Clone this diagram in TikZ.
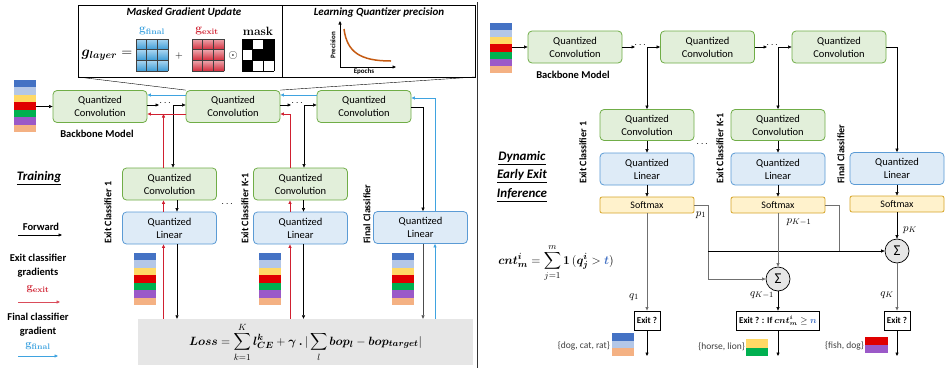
\documentclass[tikz,border=0pt]{standalone}
\usepackage[no-math]{fontspec}
\usepackage{amsmath,bm}
\setmainfont{Carlito}
\usetikzlibrary{arrows.meta,calc}

\definecolor{convfill}{HTML}{E2EFDA}
\definecolor{convline}{HTML}{70AD47}
\definecolor{linfill}{HTML}{DEEBF7}
\definecolor{linline}{HTML}{5B9BD5}
\definecolor{smxfill}{HTML}{FFF2CC}
\definecolor{smxline}{HTML}{D6A52A}
\definecolor{lossgray}{HTML}{E6E6E6}
\definecolor{linkgray}{HTML}{707070}
\definecolor{sblue}{HTML}{4472C4}
\definecolor{sltblue}{HTML}{B4C7E7}
\definecolor{syellow}{HTML}{FFD966}
\definecolor{sred}{HTML}{E00000}
\definecolor{sgreen}{HTML}{00B050}
\definecolor{spurple}{HTML}{9B59C8}
\definecolor{speach}{HTML}{F4B183}
\definecolor{curvecol}{HTML}{C55A11}
\definecolor{tblue}{HTML}{4472C4}
\definecolor{gfinal}{HTML}{3FA3E0}
\definecolor{gexit}{HTML}{D02030}

% horizontal stripes: x, y top, width, stripe height, colours
\newcommand{\stripestack}[5]{%
  \foreach \c [count=\i from 0] in {#5} {
    \fill[\c] (#1,{#2+\i*#4}) rectangle ++(#3,#4);
  }%
}
% 3x3 shaded gradient grid: x, y top, top colour, bottom colour, line colour
\newcommand{\gradgrid}[5]{%
  \foreach \i in {0,1,2}{\foreach \j in {0,1,2}{
    \shade[top color=#3, bottom color=#4] ({#1+\i*10.67},{#2+\j*10.67}) rectangle ++(10.67,10.67);
  }}
  \foreach \k in {0,1,2,3}{
    \draw[#5, line width=0.6pt] ({#1+\k*10.67},#2) -- ++(0,32);
    \draw[#5, line width=0.6pt] (#1,{#2+\k*10.67}) -- ++(32,0);
  }%
}

\tikzset{
  box/.style={rounded corners=4pt, line width=0.8pt, align=center, inner sep=0pt,
    font=\fontsize{10.5}{13}\selectfont},
  convbox/.style={box, draw=convline, fill=convfill, minimum width=94pt, minimum height=32pt},
  linbox/.style={box, draw=linline, fill=linfill, minimum width=94pt, minimum height=32pt},
  smxbox/.style={box, draw=smxline, fill=smxfill, minimum width=94pt, minimum height=16pt,
    rounded corners=2pt, font=\fontsize{10}{12}\selectfont},
  arr/.style={-{Triangle[length=3.5pt,width=3pt]}},
  fwd/.style={arr, line width=0.6pt, black},
  redg/.style={arr, line width=0.7pt, gexit},
  blueg/.style={arr, line width=0.7pt, gfinal},
  grayl/.style={line width=0.8pt, linkgray},
  sidelabel/.style={rotate=90, anchor=west, font=\bfseries\fontsize{10}{12}\selectfont, inner sep=0pt},
  exitbox/.style={draw, line width=0.8pt, fill=white, font=\bfseries\fontsize{9}{11}\selectfont,
    minimum height=19pt, inner sep=3pt},
  sumnode/.style={circle, draw, fill=lossgray, minimum size=24pt, inner sep=0pt, line width=0.7pt,
    font=\fontsize{15}{15}\selectfont},
  dotsnode/.style={inner sep=0pt, font=\fontsize{10}{12}\selectfont},
  legendtext/.style={inner sep=0pt, font=\bfseries\fontsize{10.5}{12}\selectfont},
  setlabel/.style={anchor=east, inner sep=1pt, text=black!75, font=\fontsize{9.5}{11}\selectfont},
  mathlabel/.style={inner sep=0pt, font=\fontsize{11}{12}\selectfont},
  plain/.style={inner sep=0pt},
}

\begin{document}
\begin{tikzpicture}[x=1pt, y=-1pt]
\fill[white] (0,0) rectangle (951,370);
\useasboundingbox (0,0) rectangle (951,370);

% ================= training panel =================
% gradient / precision inset
\draw[line width=0.8pt] (78,5) rectangle (475,77);
\draw[line width=0.8pt] (282,5) -- (282,77);
\node[plain, font=\bfseries\itshape\fontsize{11}{13}\selectfont] (tmask) at (184,13) {Masked Gradient Update};
\node[plain, font=\bfseries\itshape\fontsize{11}{13}\selectfont] (tprec) at (379,13) {Learning Quantizer precision};
\node[plain, font=\fontsize{14}{14}\selectfont] (glayer) at (107,55) {$\bm{g_{layer}} =$};
\gradgrid{136}{39}{gfinal!45}{gfinal!95!black}{black!75}
\gradgrid{192}{39}{gexit!40}{gexit!95}{black!75}
\node[plain, text=gfinal, font=\fontsize{12}{12}\selectfont] (lgf) at (152,31) {$\mathbf{g}_{\mathbf{final}}$};
\node[plain, text=gexit, font=\fontsize{12}{12}\selectfont] (lge) at (207,31) {$\mathbf{g}_{\mathbf{exit}}$};
\node[plain, font=\fontsize{12}{12}\selectfont] (lmask) at (258,31) {$\mathbf{mask}$};
\node[plain] (plus) at (179,56) {$+$};
\node[plain, font=\fontsize{13}{13}\selectfont] (odot) at (233,55) {$\odot$};
% mask pattern
\foreach \i/\j/\col in {0/0/black,1/0/white,2/0/black,0/1/white,1/1/black,2/1/black,0/2/black,1/2/white,2/2/white}
  \fill[\col] ({242+\i*10.67},{39+\j*10.67}) rectangle ++(10.67,10.67);
\foreach \k in {0,1,2,3}{
  \draw[black, line width=0.6pt] ({242+\k*10.67},39) -- ++(0,32);
  \draw[black, line width=0.6pt] (242,{39+\k*10.67}) -- ++(32,0);
}
% precision curve
\draw[arr, line width=0.7pt] (340,67) -- (340,21);
\draw[arr, line width=0.7pt] (340,67) -- (396,67);
\draw[curvecol, line width=1.5pt] (344,29) .. controls (347,52) and (360,61) .. (391,61);
\node[plain, rotate=90, font=\bfseries\fontsize{7}{8}\selectfont] (lprec) at (333,45) {Precision};
\node[plain, font=\bfseries\fontsize{7}{8}\selectfont] (lepoch) at (364,72) {Epochs};

% backbone
\stripestack{14}{80}{22}{7.43}{sblue,sltblue,syellow,sred,sgreen,spurple,speach}
\coordinate (instack) at (36,106.5);
\node[convbox] (c1) at (100,106.5) {Quantized\\Convolution};
\node[convbox] (c2) at (233,106.5) {Quantized\\Convolution};
\node[convbox] (c3) at (364,106.5) {Quantized\\Convolution};
\node[legendtext] (bbl) at (97,134) {Backbone Model};
\draw (78,77) -- (c2.north west);
\draw (475,77) -- (c2.north east);

% exit branches
\node[convbox] (e1c) at (169.5,184) {Quantized\\Convolution};
\node[linbox]  (e1l) at (169.5,228) {Quantized\\Linear};
\node[convbox] (ekc) at (300.5,184) {Quantized\\Convolution};
\node[linbox]  (ekl) at (300.5,228) {Quantized\\Linear};
\node[linbox]  (fl)  at (420.5,227.5) {Quantized\\Linear};
\node[sidelabel] (s1) at (108,244) {Exit Classifier 1};
\node[sidelabel] (sk) at (245,244) {Exit Classifier K-1};
\node[sidelabel] (sf) at (367,244) {Final Classifier};
\node[dotsnode] (edots) at (228,204) {$\cdots$};

\stripestack{134}{253}{22}{7.43}{sblue,sltblue,syellow,sred,sgreen,spurple,speach}
\stripestack{259}{253}{22}{7.43}{sblue,sltblue,syellow,sred,sgreen,spurple,speach}
\stripestack{392}{253}{22}{7.43}{sblue,sltblue,syellow,sred,sgreen,spurple,speach}

\node[fill=lossgray, minimum width=335pt, minimum height=46pt, inner sep=0pt, font=\fontsize{12.5}{14}\selectfont] (loss) at (305.5,342)
  {$\displaystyle \bm{Loss} = \sum_{k=1}^{K} \bm{l_{CE}^{k}} + \bm{\gamma}\ \bm{.}\,|\sum_{l} \bm{bop_{l}} - \bm{bop_{target}}|$};

% row heights and wire columns
\coordinate (yb) at (0,95);
\coordinate (yf) at (0,105);
\coordinate (yr) at (0,114);
\coordinate (yfb) at (0,98);
\coordinate (yff) at (0,107.5);
\coordinate (xa1) at (159,0);
\coordinate (xa2) at (173,0);
\coordinate (xk1) at (291,0);
\coordinate (xk2) at (304,0);
\coordinate (rA) at (163.5,0);
\coordinate (bA) at (177,0);
\coordinate (rK) at (290,0);
\coordinate (bK) at (303.5,0);
\coordinate (bF) at (423,0);
\coordinate (uF) at (435,0);

% forward pass
\draw[fwd] (instack) -- (c1.west);
\draw[fwd] (c1.east |- yf) -- (xa1 |- yf);
\node[dotsnode] (fd1) at (166,103.5) {$\cdots$};
\draw[fwd] (xa2 |- yf) -- (c2.west |- yf);
\draw[fwd] (xa2 |- yf) -- (e1c.north -| xa2);
\draw[fwd] (c2.east |- yf) -- (xk1 |- yf);
\node[dotsnode] (fd2) at (298,103.5) {$\cdots$};
\draw[fwd] (xk2 |- yf) -- (c3.west |- yf);
\draw[fwd] (xk2 |- yf) -- (ekc.north -| xk2);
\draw[fwd] (c3.east |- yff) -| (fl.north -| bF);
\draw[fwd] (e1c.south -| bA) -- (e1l.north -| bA);
\draw[fwd] (ekc.south -| bK) -- (ekl.north -| bK);
\draw[fwd] (e1l.south -| bA) -- (loss.north -| bA);
\draw[fwd] (ekl.south -| bK) -- (loss.north -| bK);
\draw[fwd, black!70] (fl.south -| bF) -- (loss.north -| bF);

% exit gradients
\draw[redg] (c2.west |- yr) -- (c1.east |- yr);
\draw[redg] (e1c.north -| rA) -- (rA |- yr);
\draw[redg] (ekc.north -| rK) |- (c2.east |- yr);
\draw[redg] (e1l.north -| rA) -- (e1c.south -| rA);
\draw[redg] (ekl.north -| rK) -- (ekc.south -| rK);
\draw[redg] (loss.north -| rA) -- (e1l.south -| rA);
\draw[redg] (loss.north -| rK) -- (ekl.south -| rK);

% final gradients
\draw[blueg] (c2.west |- yb) -- (c1.east |- yb);
\draw[blueg] (c3.west |- yb) -- (c2.east |- yb);
\draw[blueg] (fl.north -| uF) |- (c3.east |- yfb);
\draw[blueg] (loss.north -| uF) -- (fl.south -| uF);

% legend
\node[plain, font=\bfseries\itshape\fontsize{13}{15}\selectfont] (ttrain) at (39,178) {\underline{Training}};
\node[legendtext] (lfwd) at (41,227) {Forward};
\coordinate (lf0) at (18,235);
\coordinate (lf1) at (62,235);
\draw[fwd] (lf0) -- (lf1);
\node[legendtext] (lex1) at (38,258) {Exit classifier};
\node[legendtext] (lex2) at (38,273) {gradients};
\node[plain, text=gexit, font=\fontsize{11}{12}\selectfont] (lex3) at (38,289) {$\mathbf{g}_{\mathbf{exit}}$};
\coordinate (le0) at (18,302);
\coordinate (le1) at (60,302);
\draw[redg, gexit!80] (le0) -- (le1);
\node[legendtext] (lfi1) at (38,317) {Final classifier};
\node[legendtext] (lfi2) at (38,332) {gradient};
\node[plain, text=gfinal, font=\fontsize{11}{12}\selectfont] (lfi3) at (38,346) {$\mathbf{g}_{\mathbf{final}}$};
\coordinate (lb0) at (18,356);
\coordinate (lb1) at (58,356);
\draw[blueg] (lb0) -- (lb1);

% panel separator
\draw[line width=0.8pt, black!80] (477,2) -- (477,368);

% ================= inference panel =================
\stripestack{490}{23}{22}{7.14}{sblue,sltblue,syellow,sred,sgreen,spurple,speach}
\coordinate (rinstack) at (512,47);
\node[convbox] (rc1) at (575,47) {Quantized\\Convolution};
\node[convbox] (rc2) at (707.5,47) {Quantized\\Convolution};
\node[convbox] (rc3) at (839,47) {Quantized\\Convolution};
\node[legendtext] (rbbl) at (573,75) {Backbone Model};

\node[convbox, minimum height=31pt] (re1c) at (647,125) {Quantized\\Convolution};
\node[linbox] (re1l) at (647,169) {Quantized\\Linear};
\node[smxbox] (re1s) at (647,205) {Softmax};
\node[convbox, minimum height=31pt] (rekc) at (778,125) {Quantized\\Convolution};
\node[linbox] (rekl) at (778,169) {Quantized\\Linear};
\node[smxbox] (reks) at (778,205) {Softmax};
\node[linbox] (rfl) at (897,168.5) {Quantized\\Linear};
\node[smxbox] (rfs) at (897,204) {Softmax};
\node[sidelabel] (rs1) at (583,184) {Exit Classifier 1};
\node[sidelabel] (rsk) at (720,184) {Exit Classifier K-1};
\node[sidelabel] (rsf) at (841,184) {Final Classifier};
\node[dotsnode] (redots) at (703,144) {$\cdots$};

\node[plain, font=\bfseries\itshape\fontsize{13}{15}\selectfont] (tdyn) at (522,158) {\underline{Dynamic}};
\node[plain, font=\bfseries\itshape\fontsize{13}{15}\selectfont] (tdyn2) at (522,176.5) {\underline{Early Exit}};
\node[plain, font=\bfseries\itshape\fontsize{13}{15}\selectfont] (tdyn3) at (522,195) {\underline{Inference}};

\coordinate (ra1) at (635,0);
\coordinate (ra2) at (647,0);
\coordinate (rk1) at (767,0);
\coordinate (rk2) at (778,0);
\coordinate (ryf) at (0,47);
\draw[fwd] (rinstack) -- (rc1.west);
\draw[fwd] (rc1.east) -- (ra1 |- ryf);
\node[dotsnode] (rfd1) at (641,45.5) {$\cdots$};
\draw[fwd] (ra2 |- ryf) -- (rc2.west);
\draw[fwd] (ra2 |- ryf) -- (re1c.north);
\draw[fwd] (rc2.east) -- (rk1 |- ryf);
\node[dotsnode] (rfd2) at (773,45.5) {$\cdots$};
\draw[fwd] (rk2 |- ryf) -- (rc3.west);
\draw[fwd] (rk2 |- ryf) -- (rekc.north);
\draw[fwd] (rc3.east) -| (rfl.north);
\draw[fwd] (re1c) -- (re1l);
\draw[fwd] (re1l) -- (re1s);
\draw[fwd] (rekc) -- (rekl);
\draw[fwd] (rekl) -- (reks);
\draw[fwd] (rfl) -- (rfs);

% voting
\node[sumnode] (sK1) at (778,279) {Σ};
\node[sumnode] (sK) at (897,251) {Σ};
\node[exitbox] (ex1) at (647,320.5) {Exit ?};
\node[exitbox] (exk) at (778,320.5) {Exit ? : If $\bm{cnt_m^i}\geq\textcolor{tblue}{\bm{n}}$};
\node[exitbox] (exf) at (897,320.5) {Exit ?};

\coordinate (xp1) at (708,0);
\coordinate (xpk) at (839,0);
\coordinate (yvote) at (0,251);
\coordinate (o1) at (647,356);
\coordinate (ok) at (778,356);
\coordinate (of) at (897,356);

\draw[grayl] (re1s.east) -| (xp1 |- sK1);
\draw[fwd, linkgray, line width=0.8pt] (xp1 |- sK1) -- (sK1.west);
\draw[fwd] (xp1 |- yvote) -- (sK.west);
\draw[grayl] (reks.east) -| (xpk |- yvote);
\draw[fwd, linkgray, line width=0.8pt] (reks.south) -- (sK1.north);
\draw[fwd] (rfs.south) -- (sK.north);
\draw[fwd, linkgray, line width=0.8pt] (re1s.south) -- (ex1.north);
\draw[fwd] (sK1.south) -- (exk.north);
\draw[fwd, linkgray, line width=0.8pt] (sK.south) -- (exf.north);
\draw[fwd] (ex1.south) -- (o1);
\draw[fwd] (exk.south) -- (ok);
\draw[fwd] (exf.south) -- (of);

\node[mathlabel] (lp1) at (701,215) {$p_1$};
\node[mathlabel] (lpk1) at (799,222) {$p_{K-1}$};
\node[mathlabel] (lpk) at (910,230) {$p_K$};
\node[mathlabel] (lq1) at (634,297) {$q_1$};
\node[mathlabel] (lqk1) at (762,295) {$q_{K-1}$};
\node[mathlabel] (lqk) at (887,295) {$q_K$};

\node[plain, font=\fontsize{13}{15}\selectfont] (cnt) at (556,263)
  {$\displaystyle \bm{cnt_m^i} = \sum_{j=1}^{m}\mathbf{1}\,(\bm{q_j^i} > \textcolor{tblue}{\bm{t}})$};

\stripestack{612}{333}{22}{7.67}{sblue,sltblue,speach}
\stripestack{746}{339}{22}{8.5}{syellow,sgreen}
\stripestack{865}{337}{23}{8}{sred,spurple}
\node[setlabel] (set1) at (611,346) {\{dog, cat, rat\}};
\node[setlabel] (set2) at (746,347) {\{horse, lion\}};
\node[setlabel] (set3) at (865,346) {\{fish, dog\}};
\end{tikzpicture}
\end{document}
